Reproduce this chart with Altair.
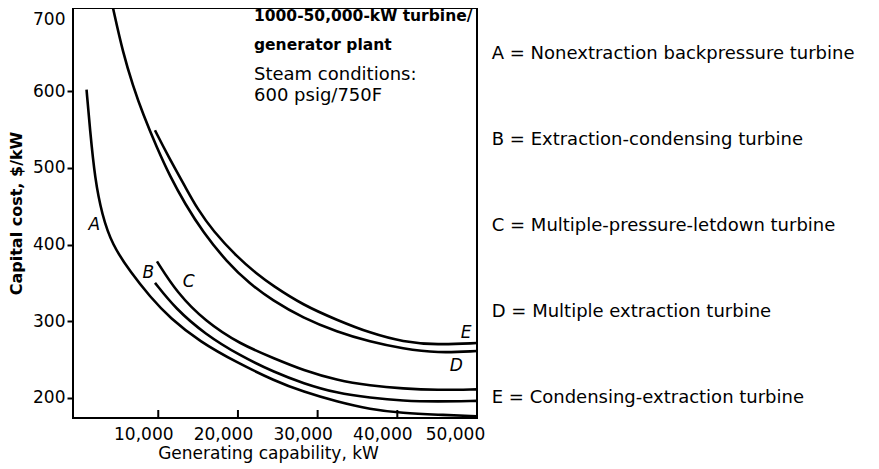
import altair as alt
import pandas as pd

# ---- data ----
A_kw = [1000, 1430, 2060, 2940, 4190, 6580, 8960, 11470, 15240, 19880, 24650, 28170, 32430, 36580, 40720, 44990, 50000]
A_cost = [602, 550, 485, 439, 400, 363, 332, 304, 273, 246, 222, 208, 195, 185, 180, 178, 176]

B_kw = [9590, 12100, 15870, 20260, 24650, 28170, 32430, 36580, 40720, 44990, 50000]
B_cost = [350, 317, 283, 255, 233, 219, 206, 200, 196, 195, 196]

C_kw = [9840, 12350, 15870, 20260, 24650, 28170, 32430, 36580, 40720, 44990, 50000]
C_cost = [378, 337, 300, 270, 251, 236, 223, 216, 212, 210, 211]

D_kw = [4320, 5570, 6830, 8080, 9840, 11470, 13360, 15620, 18630, 21510, 24280, 28170, 32430, 36580, 40720, 44990, 50000]
D_cost = [708.5, 650, 607, 570, 526, 489, 453, 416, 377, 348.5, 327.5, 304, 286, 273, 264, 258.5, 261]

E_kw = [9590, 11100, 13610, 14860, 16870, 19880, 22390, 24280, 28170, 32430, 36580, 40720, 44990, 50000]
E_cost = [549, 518, 471, 447.5, 417.5, 384, 361.5, 347, 321, 301.5, 284.5, 273, 269, 271.5]

curve_names = ["A", "B", "C", "D", "E"]
label_kw = [1970, 8750, 13820, 47410, 48630]
label_cost = [426, 363, 351, 242, 284]

x_ticks = [10000, 20000, 30000, 40000, 50000]
y_ticks = [200, 300, 400, 500, 600, 700]

note_bold = ["1000-50,000-kW turbine/", "generator plant"]
note_bold_cost = [691, 654]
note_plain = ["Steam conditions:", "600 psig/750F"]
note_plain_cost = [614.0, 586.9]
note_kw = 22016

legend_text = [
    "A = Nonextraction backpressure turbine",
    "B = Extraction-condensing turbine",
    "C = Multiple-pressure-letdown turbine",
    "D = Multiple extraction turbine",
    "E = Condensing-extraction turbine",
]
legend_cost = [641.4, 529.4, 417.1, 306.0, 193.7]
legend_kw = 51852

# ---- tables ----
rows = []
for name, kws, costs in zip(curve_names, [A_kw, B_kw, C_kw, D_kw, E_kw],
                            [A_cost, B_cost, C_cost, D_cost, E_cost]):
    for k, c in zip(kws, costs):
        rows.append({"curve": name, "kW": k, "cost": c})
curves_df = pd.DataFrame(rows)
labels_df = pd.DataFrame({"curve": curve_names, "kW": label_kw, "cost": label_cost})
bold_df = pd.DataFrame({"t": note_bold, "kW": [note_kw] * 2, "cost": note_bold_cost})
plain_df = pd.DataFrame({"t": note_plain, "kW": [note_kw] * 2, "cost": note_plain_cost})
legend_df = pd.DataFrame({"t": legend_text, "kW": [legend_kw] * 5, "cost": legend_cost})
tick_df = pd.DataFrame({"kW": x_ticks[:-1]})

xs = alt.Scale(domain=[-700, 50000], nice=False, zero=False)
ys = alt.Scale(domain=[173.7, 708.5], nice=False, zero=False)

FONT = "DejaVu Sans"

lines = alt.Chart(curves_df).mark_line(
    color="black", strokeWidth=2.6, interpolate="basis", clip=True
).encode(
    x=alt.X("kW:Q", scale=xs, axis=alt.Axis(
        values=x_ticks, format=",d", title="Generating capability, kW",
        tickSize=0, ticks=False,
        labelOffset={"condition": {"test": "datum.value === 50000", "value": -22}, "value": -15},
        labelPadding=8, labelFlush=False,
        domain=False, grid=False, titlePadding=3, titleX=195,
        titleFontWeight="normal", titleFontSize=17)),
    y=alt.Y("cost:Q", scale=ys, axis=alt.Axis(
        values=y_ticks, tickSize=6, tickWidth=2, labelPadding=2,
        tickOpacity={"condition": {"test": "datum.value === 700", "value": 0}, "value": 1},
        labelOffset={"condition": {"test": "datum.value === 700", "value": 5}, "value": 0},
        title="Capital cost, $/kW", titleFontWeight="bold", titleFontSize=16,
        titlePadding=8, grid=False, domain=False)),
    detail="curve:N",
)

ticks = alt.Chart(tick_df).mark_rule(color="black", strokeWidth=2).encode(
    x=alt.X("kW:Q", scale=xs), y=alt.value(410), y2=alt.value(402)
)

curve_labels = alt.Chart(labels_df).mark_text(
    font=FONT, fontSize=17, fontStyle="italic", color="black",
    align="center", baseline="middle"
).encode(x=alt.X("kW:Q", scale=xs), y=alt.Y("cost:Q", scale=ys), text="curve:N")

bold_notes = alt.Chart(bold_df).mark_text(
    font=FONT, fontSize=15.5, fontWeight="bold", color="black",
    align="left", baseline="alphabetic"
).encode(x=alt.X("kW:Q", scale=xs), y=alt.Y("cost:Q", scale=ys), text="t:N")

plain_notes = alt.Chart(plain_df).mark_text(
    font=FONT, fontSize=18, color="black", align="left", baseline="alphabetic"
).encode(x=alt.X("kW:Q", scale=xs), y=alt.Y("cost:Q", scale=ys), text="t:N")

legend = alt.Chart(legend_df).mark_text(
    font=FONT, fontSize=18, color="black", align="left", baseline="alphabetic"
).encode(x=alt.X("kW:Q", scale=xs), y=alt.Y("cost:Q", scale=ys), text="t:N")

chart = alt.layer(lines, ticks, curve_labels, bold_notes, plain_notes, legend).properties(
    width=404, height=410,
    autosize=alt.AutoSizeParams(type="none"),
    padding={"left": 65, "top": 0, "right": 392, "bottom": 45},
    background="white",
).configure_view(
    stroke="black", strokeWidth=2
).configure_axis(
    labelFont=FONT, labelFontSize=17, labelColor="black",
    titleFont=FONT, titleColor="black", tickColor="black",
)

chart.save("out.html", embed_options={"renderer": "svg", "actions": False})
